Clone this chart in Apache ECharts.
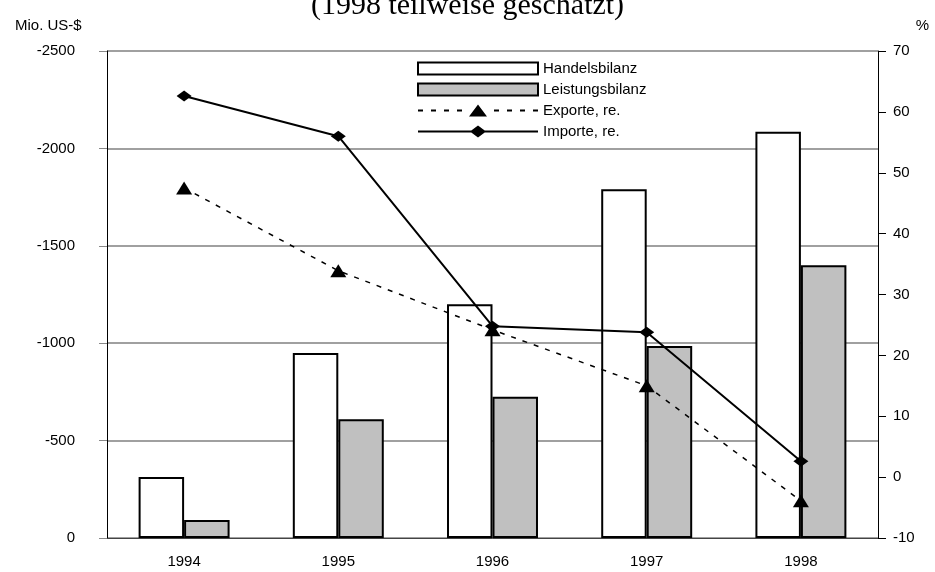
<!DOCTYPE html>
<html>
<head>
<meta charset="utf-8">
<script src="https://cdn.jsdelivr.net/npm/echarts@6/dist/echarts.min.js"></script>
<style>html,body{margin:0;padding:0;background:#fff;}#c{width:935px;height:572px;}</style>
</head>
<body>
<div id="c"></div>
<script>
const categories = ['1994', '1995', '1996', '1997', '1998'];
const handelsbilanz = [-313, -950, -1200, -1790, -2085];
const leistungsbilanz = [-92, -610, -725, -985, -1400];
const exporte = [47.5, 33.9, 24.2, 15.0, -3.9];
const importe = [62.6, 56.0, 24.8, 23.8, 2.6];
const titleText = '(1998 teilweise geschätzt)';
const leftUnit = 'Mio. US-$';
const rightUnit = '%';

const font = 'Liberation Sans, Arial, sans-serif';
const exportIcon = 'path://M0 5h5v2h-5Z M13 5h5v2h-5Z M26 5h5v2h-5Z M39 5h5v2h-5Z M51 12L60 0L69 12Z M76 5h5v2h-5Z M89 5h5v2h-5Z M102 5h5v2h-5Z M115 5h5v2h-5Z';
const importIcon = 'path://M0 5H53.3L60 0L66.7 5H120V7H66.7L60 12L53.3 7H0Z';
const chart = echarts.init(document.getElementById('c'));
chart.setOption({
  backgroundColor: '#fff',
  animation: false,
  title: {
    text: titleText,
    left: 'center',
    top: -14,
    textStyle: { fontFamily: 'Liberation Serif, Times New Roman, serif', fontSize: 30, fontWeight: 'normal', color: '#000' }
  },
  graphic: [
    { type: 'text', left: 15, top: 18, style: { text: leftUnit, font: '15px ' + font, fill: '#000' } },
    { type: 'text', right: 6, top: 18, style: { text: rightUnit, font: '15px ' + font, fill: '#000' } }
  ],
  legend: {
    orient: 'vertical',
    left: 412,
    top: 56,
    itemWidth: 120,
    itemHeight: 12,
    itemGap: 6,
    textStyle: { fontFamily: font, fontSize: 15, color: '#000' },
    data: [
      { name: 'Handelsbilanz', icon: 'rect' },
      { name: 'Leistungsbilanz', icon: 'rect' },
      { name: 'Exporte, re.', icon: exportIcon, itemStyle: { color: '#000', borderWidth: 0 } },
      { name: 'Importe, re.', icon: importIcon, itemStyle: { color: '#000', borderWidth: 0 } }
    ]
  },
  grid: { left: 107, right: 57, top: 51, bottom: 34 },
  xAxis: {
    type: 'category',
    data: categories,
    axisLine: { lineStyle: { color: '#444', width: 1 } },
    axisTick: { length: 8, lineStyle: { color: '#333' } },
    axisLabel: { margin: 16, fontFamily: font, fontSize: 15, color: '#000' }
  },
  yAxis: [
    {
      type: 'value',
      inverse: true,
      min: -2500,
      max: 0,
      interval: 500,
      axisLine: { show: true, lineStyle: { color: '#000', width: 1 } },
      axisTick: { show: true, length: 8, lineStyle: { color: '#888' } },
      splitLine: { show: true, lineStyle: { color: '#a0a0a0', width: 2 } },
      axisLabel: { margin: 32, fontFamily: font, fontSize: 15, color: '#000', formatter: v => String(v) }
    },
    {
      type: 'value',
      min: -10,
      max: 70,
      interval: 10,
      axisLine: { show: true, lineStyle: { color: '#000', width: 1 } },
      axisTick: { show: true, length: 8, lineStyle: { color: '#000' } },
      splitLine: { show: false },
      axisLabel: { margin: 15, fontFamily: font, fontSize: 15, color: '#000', formatter: v => String(v) }
    }
  ],
  series: [
    {
      name: 'Handelsbilanz', type: 'bar', yAxisIndex: 0, data: handelsbilanz,
      barGap: '0%', barCategoryGap: '41%',
      itemStyle: { color: '#fff', borderColor: '#000', borderWidth: 2 }
    },
    {
      name: 'Leistungsbilanz', type: 'bar', yAxisIndex: 0, data: leistungsbilanz,
      barGap: '0%', barCategoryGap: '41%',
      itemStyle: { color: '#c0c0c0', borderColor: '#000', borderWidth: 2 }
    },
    {
      name: 'Exporte, re.', type: 'line', yAxisIndex: 1, data: exporte,
      symbol: 'triangle', symbolSize: [16, 13],
      lineStyle: { color: '#000', width: 1.5, type: [5, 7] },
      itemStyle: { color: '#000' }, z: 5
    },
    {
      name: 'Importe, re.', type: 'line', yAxisIndex: 1, data: importe,
      symbol: 'diamond', symbolSize: [15, 11],
      lineStyle: { color: '#000', width: 2 },
      itemStyle: { color: '#000' }, z: 6
    }
  ]
});
</script>
</body>
</html>
